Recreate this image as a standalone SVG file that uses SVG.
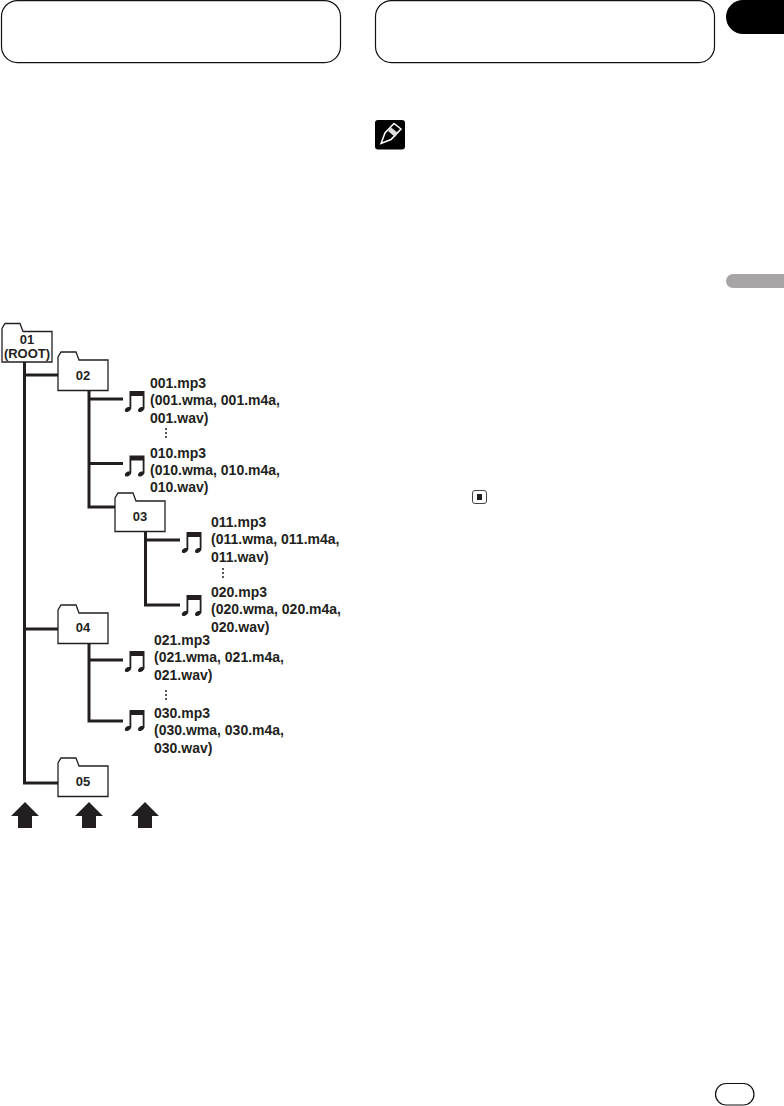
<svg xmlns="http://www.w3.org/2000/svg" width="784" height="1106" viewBox="0 0 784 1106">
<style>
text{font-family:"Liberation Sans",Arial,sans-serif;font-weight:700;font-size:14px;fill:#231f20}
.c{text-anchor:middle;font-size:13px}
.f{fill:#fff;stroke:#231f20;stroke-width:1.3}
.w{fill:none;stroke:#231f20;stroke-width:3}
.h{fill:#fff;stroke:#111;stroke-width:1.2}
.k{fill:#231f20}
</style>
<defs>
<path id="folder" class="f" d="M0 39V5.500L3 0.500H18L21 8.500H50V39Z"/>
<path id="note" class="k" d="M4.500 0H19.500V17C19.500 19 16.500 21.500 14 21C12.500 20.500 12.800 18.500 14 17.300C15 16.300 16.500 15.800 17.700 16V5H6.300V17C6.300 19 3.300 21.500 0.800 21C-0.700 20.500 -0.400 18.500 0.800 17.300C1.800 16.300 3.300 15.800 4.500 16Z"/>
<path id="arrow" class="k" d="M0 0L14 14H7V26H-7V14H-14Z"/>
<g id="dots" class="k"><circle cx="0" cy="0" r="1"/><circle cx="0" cy="4" r="1"/><circle cx="0" cy="8" r="1"/></g>
</defs>
<rect width="784" height="1106" fill="#fff"/>
<g id="page">
<rect id="header-left" class="h" x="1.500" y="0.600" width="339" height="62" rx="16"/>
<rect id="header-right" class="h" x="375.500" y="0.600" width="339" height="62" rx="16"/>
<path id="chapter-tab" fill="#000" d="M784 0H743A17 17 0 0 0 726 17A17 17 0 0 0 743 34H784Z"/>
<path id="side-tab" fill="#a7a5a6" d="M784 274H733A7 7 0 0 0 733 288H784Z"/>
<rect id="page-number" class="h" x="715.500" y="1083.500" width="38.500" height="21.500" rx="10.700"/>
<g id="note-icon"><rect x="375" y="120" width="30" height="29.500" rx="3" fill="#000"/>
<path d="M381 143.500L385 133L394 123.500L401 129L391 139.500Z" fill="none" stroke="#fff" stroke-width="1.500"/>
<path d="M388 131L395 137L398 133L391 127.500Z" fill="#ddd"/></g>
<g id="stop-icon"><rect x="472.500" y="490.500" width="14" height="13" rx="2.500" fill="#fff" stroke="#444" stroke-width="1"/><rect x="477" y="494" width="5" height="6" fill="#231f20"/></g>
</g>
<g id="connectors">
<path class="w" d="M24.500 362V783H58M24.500 375H58M24.500 629H58"/>
<path class="w" d="M89 391V507H115M89 399H123M89 463.500H123"/>
<path class="w" d="M145.500 532V605H180M145.500 540H180"/>
<path class="w" d="M89 644V721H123M89 660H123"/>
</g>
<g id="folder-01"><use href="#folder" x="2" y="323"/><text class="c" x="27" y="344">01</text><text class="c" x="27" y="357.500">(ROOT)</text></g>
<g id="folder-02"><use href="#folder" x="58" y="351.500"/><text class="c" x="83" y="380">02</text></g>
<g id="folder-03"><use href="#folder" x="115" y="492.500"/><text class="c" x="140" y="521">03</text></g>
<g id="folder-04"><use href="#folder" x="58" y="604.500"/><text class="c" x="83" y="632">04</text></g>
<g id="folder-05"><use href="#folder" x="58" y="757.500"/><text class="c" x="83" y="786">05</text></g>
<g id="file-001"><use href="#note" x="125" y="391"/><text x="150" y="388">001.mp3</text><text x="150" y="405">(001.wma, 001.m4a,</text><text x="150" y="422.500">001.wav)</text></g>
<use id="dots-1" href="#dots" x="166" y="429"/>
<g id="file-010"><use href="#note" x="125" y="455.500"/><text x="150" y="457.500">010.mp3</text><text x="150" y="474.500">(010.wma, 010.m4a,</text><text x="150" y="491.500">010.wav)</text></g>
<g id="file-011"><use href="#note" x="182" y="532"/><text x="211" y="527">011.mp3</text><text x="211" y="544">(011.wma, 011.m4a,</text><text x="211" y="561.500">011.wav)</text></g>
<use id="dots-2" href="#dots" x="223" y="569"/>
<g id="file-020"><use href="#note" x="182" y="595"/><text x="211" y="597">020.mp3</text><text x="211" y="614">(020.wma, 020.m4a,</text><text x="211" y="631.500">020.wav)</text></g>
<g id="file-021"><use href="#note" x="125" y="651"/><text x="154" y="645">021.mp3</text><text x="154" y="662">(021.wma, 021.m4a,</text><text x="154" y="679.500">021.wav)</text></g>
<use id="dots-3" href="#dots" x="166" y="691"/>
<g id="file-030"><use href="#note" x="125" y="710"/><text x="154" y="718">030.mp3</text><text x="154" y="735">(030.wma, 030.m4a,</text><text x="154" y="752.500">030.wav)</text></g>
<g id="arrows"><use href="#arrow" x="25" y="802"/><use href="#arrow" x="89" y="802"/><use href="#arrow" x="145" y="802"/></g>
</svg>
